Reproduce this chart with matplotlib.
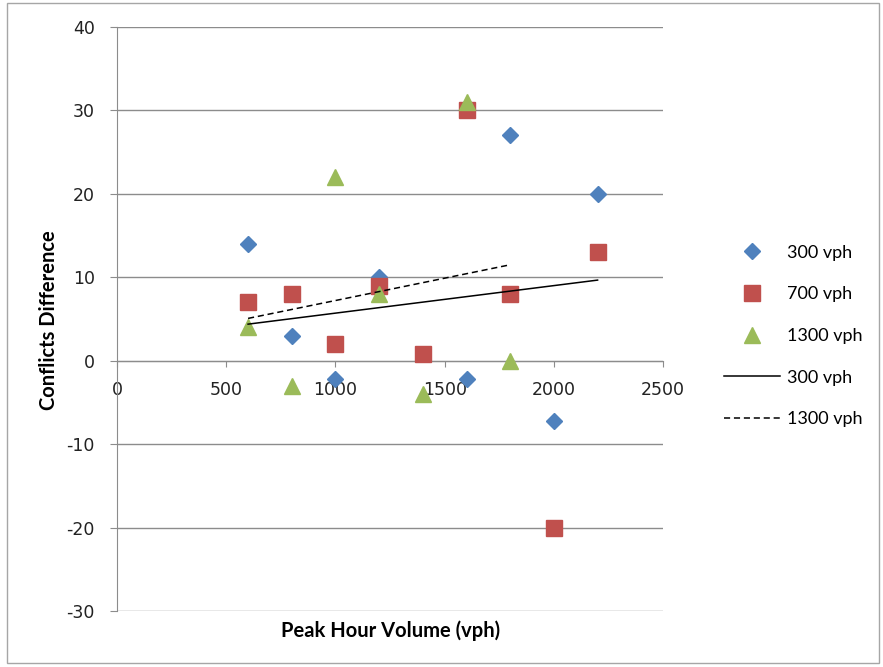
import matplotlib

matplotlib.use("Agg")
import matplotlib.pyplot as plt
import numpy as np
from matplotlib.lines import Line2D
from matplotlib.patches import Rectangle

plt.rcParams["font.family"] = "DejaVu Sans"
plt.rcParams["axes.unicode_minus"] = False

# Peak hour volume (vph) and conflict differences per minor-street volume
vol_300 = [600, 800, 1000, 1200, 1400, 1600, 1800, 2000, 2200]
diff_300 = [14, 3, -2.2, 10, 0.8, -2.2, 27, -7.2, 20]

vol_700 = [600, 800, 1000, 1200, 1400, 1600, 1800, 2000, 2200]
diff_700 = [7, 8, 2, 9, 0.8, 30, 8, -20, 13]

vol_1300 = [600, 800, 1000, 1200, 1400, 1600, 1800]
diff_1300 = [4, -3, 22, 8, -4, 31, 0]

x_ticks = [0, 500, 1000, 1500, 2000, 2500]
y_ticks = [-30, -20, -10, 0, 10, 20, 30, 40]

BLUE = "#4F81BD"
RED = "#C0504D"
GREEN = "#9BBB59"
GRID = "#8C8C8C"

fig = plt.figure(figsize=(8.83, 6.67), dpi=100)
ax = fig.add_axes([0.1325, 0.084, 0.6185, 0.8755])

# chart border
fig.patches.append(Rectangle((7 / 883, 1 - 663 / 667), 872 / 883, 660 / 667,
                             transform=fig.transFigure, fill=False,
                             edgecolor="#A6A6A6", linewidth=1.0))

ax.plot(vol_300, diff_300, linestyle="none", marker="D", markersize=7.8,
        color=BLUE, zorder=3)
ax.plot(vol_700, diff_700, linestyle="none", marker="s", markersize=11.5,
        color=RED, zorder=3)
ax.plot(vol_1300, diff_1300, linestyle="none", marker="^", markersize=11.5,
        color=GREEN, zorder=3)

# linear trendlines
for xs, ys, ls in [(vol_300, diff_300, "-"), (vol_1300, diff_1300, "--")]:
    k, b = np.polyfit(xs, ys, 1)
    xx = np.array([min(xs), max(xs)])
    ax.plot(xx, k * xx + b, color="black", linestyle=ls, linewidth=1.1,
            dashes=(4, 2.5) if ls == "--" else (None, None), zorder=4)

ax.set_xlim(0, 2500)
ax.set_ylim(-30, 40)
ax.set_xticks(x_ticks)
ax.set_yticks(y_ticks)
ax.yaxis.grid(True, color=GRID, linewidth=1.0)
ax.set_axisbelow(True)

for side in ["top", "right"]:
    ax.spines[side].set_visible(False)
ax.spines["left"].set_color(GRID)
ax.spines["bottom"].set_position(("data", 0))
ax.spines["bottom"].set_color(GRID)

ax.tick_params(axis="y", direction="out", length=5, color=GRID, pad=11,
               labelsize=12.5, labelcolor="#222222")
ax.tick_params(axis="x", direction="out", length=4.5, color=GRID, pad=10,
               labelsize=12.5, labelcolor="#222222")

fig.text(391 / 883, 1 - 631 / 667, "Peak Hour Volume (vph)", ha="center",
         va="center", fontsize=14.5, fontweight="bold", family="Lato")
fig.text(49 / 883, 1 - 320 / 667, "Conflicts Difference", ha="center",
         va="center", rotation=90, fontsize=14.5, fontweight="bold",
         family="Lato")

handles = [
    Line2D([], [], linestyle="none", marker="D", markersize=7.8, color=BLUE),
    Line2D([], [], linestyle="none", marker="s", markersize=11.5, color=RED),
    Line2D([], [], linestyle="none", marker="^", markersize=11.5, color=GREEN),
    Line2D([], [], color="black", linewidth=1.1),
    Line2D([], [], color="black", linewidth=1.1, dashes=(4, 2.5)),
]
labels = ["300 vph", "700 vph", "1300 vph", "300 vph", "1300 vph"]
fig.legend(handles, labels, loc="center left",
           bbox_to_anchor=(715 / 883, 1 - 336 / 667), frameon=False,
           prop={"family": "Lato", "size": 13}, handlelength=3.1,
           handletextpad=0.38, labelspacing=1.42, borderpad=0, numpoints=1)

fig.savefig("out.png", dpi=100)
